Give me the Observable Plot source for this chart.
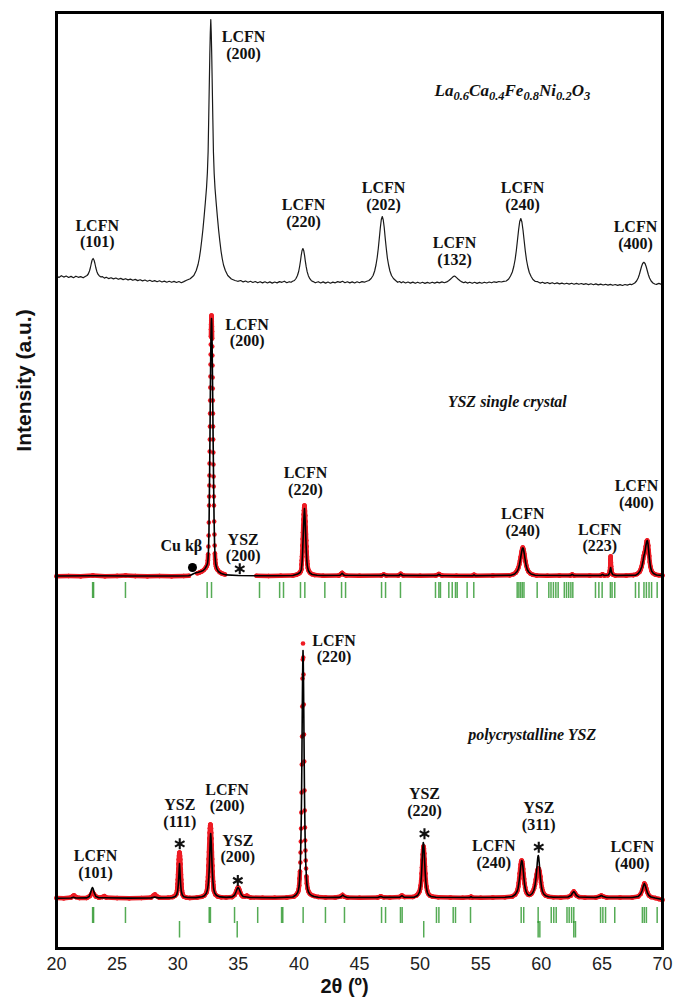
<!DOCTYPE html>
<html><head><meta charset="utf-8">
<script src="https://cdn.jsdelivr.net/npm/d3@7"></script>
<script src="https://cdn.jsdelivr.net/npm/@observablehq/plot@0.6"></script>
<style>html,body{margin:0;padding:0;background:#fff}#chart{width:673px;height:1000px}</style>
</head><body><div id="chart"></div>
<script>
// ---------- data ----------
const xTicks = [20,25,30,35,40,45,50,55,60,65,70];
const offsets = {top: 666, mid: 372, bot: 50};

// Bulk powder pattern (top)
const topPattern = [
[20.0,6.2],[20.2,5.1],[20.4,6.8],[20.6,5.4],[20.8,6.5],[21.0,5.0],[21.2,6.1],[21.4,4.8],[21.6,6.3],[21.8,5.2],[22.0,5.9],[22.2,4.7],
[22.37,6],[22.52,7],[22.62,8.5],[22.72,11.5],[22.8,15],[22.87,19],[22.94,22.5],[23.02,24],[23.1,22.3],[23.17,19],[23.24,15],[23.32,11.3],[23.42,8.3],[23.52,6.8],[23.67,5.6],
[23.8,5.9],[23.95,4.4],[24.1,5.3],[24.3,3.9],[24.5,4.8],[24.7,3.6],[24.9,4.5],[25.1,3.2],[25.3,4.1],[25.5,2.9],[25.7,3.8],[25.9,2.6],[26.1,3.4],[26.3,2.2],[26.5,3.1],[26.7,1.9],[26.9,2.8],[27.1,1.6],[27.3,2.5],[27.5,1.3],[27.7,2.2],[27.9,1.0],[28.1,1.9],[28.3,0.8],[28.5,1.7],[28.7,0.5],[28.9,1.4],[29.1,0.3],[29.3,1.2],[29.5,0.2],[29.7,1.1],[29.9,0.0],[30.1,1.0],[30.3,-0.2],[30.5,0.9],
[30.73,2.3],[31.03,3.8],[31.33,7],[31.53,12],[31.68,18],[31.78,24],[31.88,32],[31.98,42],[32.08,53],[32.18,66],[32.28,80],[32.38,95],[32.45,110],[32.51,131],[32.56,165],[32.61,200],[32.65,228],[32.69,250],[32.73,263],[32.77,249],[32.81,226],[32.85,198],[32.9,163],[32.95,130],[33.01,109],[33.08,94],[33.18,79],[33.28,65],[33.38,52],[33.48,41],[33.58,31],[33.68,23.5],[33.78,17.5],[33.93,12],[34.13,7],[34.43,3.5],[34.73,2],
[34.95,1.2],[35.2,2.0],[35.4,0.6],[35.6,1.5],[35.8,0.3],[36.0,1.2],[36.2,0.0],[36.4,1.0],[36.6,-0.3],[36.8,0.8],[37.0,-0.4],[37.2,0.7],[37.4,-0.5],[37.6,0.6],[37.8,-0.6],[38.0,0.5],[38.2,-0.4],[38.4,0.9],[38.6,0.2],[38.8,1.3],[39.0,-0.2],[39.2,0.8],[39.35,0.2],
[39.48,1.2],[39.63,2],[39.76,4],[39.88,7],[39.98,11],[40.06,16],[40.13,21.5],[40.19,27],[40.26,32],[40.33,34],[40.4,31.8],[40.47,26.8],[40.53,21.3],[40.6,15.8],[40.68,10.8],[40.78,6.8],[40.9,3.8],[41.03,1.8],[41.18,0.9],
[41.35,-0.3],[41.6,0.8],[41.8,-0.5],[42.0,0.6],[42.2,-0.6],[42.4,0.5],[42.6,-0.7],[42.8,0.4],[43.0,-0.3],[43.2,0.9],[43.4,0.1],[43.6,1.2],[43.8,-0.2],[44.0,0.7],[44.2,-0.4],[44.4,0.6],[44.6,-0.5],[44.8,0.7],[45.0,-0.2],[45.2,0.9],[45.4,0.3],[45.6,1.3],
[45.78,2],[45.96,4],[46.12,7],[46.25,11.5],[46.36,17.5],[46.46,25],[46.55,34],[46.64,45],[46.72,55],[46.8,63],[46.88,66],[46.96,62.5],[47.04,55],[47.12,44.5],[47.21,34],[47.3,24.5],[47.4,17.5],[47.51,11.5],[47.64,7],[47.8,4],[47.98,2],
[48.15,0.2],[48.3,1.0],[48.45,-0.3],[48.6,0.8],[48.8,-0.5],[49.0,0.5],[49.2,-0.6],[49.4,0.4],[49.6,-0.8],[49.8,0.3],[50.0,-0.7],[50.2,0.2],[50.4,-0.9],[50.6,0.1],[50.8,-0.8],[51.0,0.3],[51.2,-0.6],[51.4,0.4],[51.6,-0.4],[51.8,0.6],[52.0,-0.2],
[52.2,0.6],[52.35,1.8],[52.5,3.2],[52.62,4.6],[52.72,5.8],[52.82,6.5],[52.92,5.9],[53.03,4.6],[53.15,3.2],[53.3,1.8],[53.45,0.6],
[53.6,-0.2],[53.75,0.6],[53.9,-0.6],[54.1,0.3],[54.3,-0.8],[54.5,0.2],[54.7,-0.9],[54.9,0.1],[55.1,-0.7],[55.3,0.3],[55.5,-0.5],[55.7,0.5],[55.9,-0.3],[56.1,0.7],[56.3,0.1],[56.5,1.0],[56.7,0.5],[56.9,1.2],
[57.11,1.5],[57.31,3.5],[57.46,6.5],[57.61,10.5],[57.73,16],[57.84,23],[57.94,32],[58.04,43],[58.13,53],[58.22,61],[58.31,64],[58.4,60.5],[58.49,52.5],[58.58,42.5],[58.68,31.5],[58.78,22.5],[58.89,15.5],[59.01,10],[59.16,6],[59.31,3],[59.51,1],
[59.7,0.8],[59.9,-0.6],[60.1,0.3],[60.3,-0.9],[60.5,0.0],[60.7,-1.1],[60.9,-0.2],[61.1,-1.3],[61.3,-0.4],[61.5,-1.4],[61.7,-0.6],[61.9,-1.5],[62.1,-0.7],[62.3,-1.6],[62.5,-0.8],[62.7,-1.7],[62.9,-0.9],[63.1,-1.8],[63.3,-1.0],[63.5,-1.9],[63.7,-1.2],[63.9,-2.1],[64.1,-1.3],[64.3,-2.2],[64.5,-1.4],[64.7,-2.4],[64.9,-1.6],[65.1,-2.5],[65.3,-1.8],[65.5,-2.6],[65.7,-1.9],[65.9,-2.8],[66.1,-2.0],[66.3,-2.9],[66.5,-2.1],[66.7,-3.0],[66.9,-2.0],[67.1,-2.6],[67.3,-1.7],[67.45,-2.2],
[67.56,-1.5],[67.71,-0.5],[67.86,1.5],[67.99,4.5],[68.09,8],[68.18,12],[68.27,16],[68.36,19],[68.46,20.2],[68.56,19],[68.65,16],[68.74,12],[68.83,8],[68.93,4.5],[69.06,1.5],[69.21,-0.5],[69.36,-1.5],
[69.5,-1.9],[69.7,-0.9],[69.85,-1.6],[70.0,-1.0]
];

// YSZ single crystal: observed (red, three measured segments) and calculated (black)
const midObs = [
[[20,0.3],[21,0.5],[22,0.2],[23,0.9],[24,0.3],[25,0.6],[25.7,1],[26.5,0.4],[27.5,0.3],[28.5,0.5],[29.5,0.3],[30.5,0.5],[30.93,0.8]],
[[31.62,3.2],[31.8,4],[32.0,5.2],[32.15,6.5],[32.3,8.5],[32.4,10.5],[32.46,12.5],[32.49,16],[32.51,22],[32.53,30],[32.55,41],[32.57,54],[32.59,71],[32.6,80],[32.61,91],[32.62,101],[32.63,113],[32.64,125],[32.65,137],[32.66,150],[32.67,163],[32.68,176],[32.69,189],[32.7,200],[32.71,212],[32.72,222],[32.73,232],[32.74,240],[32.75,247],[32.76,252],[32.77,256],[32.78,259],[32.79,261],[32.8,259],[32.81,255],[32.82,250],[32.83,245],[32.84,238],[32.85,230],[32.86,221],[32.87,211],[32.88,199],[32.89,188],[32.9,176],[32.91,163],[32.92,150],[32.93,137],[32.94,124],[32.95,112],[32.96,100],[32.97,90],[32.98,80],[32.99,71],[33.01,55],[33.03,42],[33.05,31],[33.07,23],[33.09,17],[33.12,13],[33.16,10],[33.22,8],[33.3,6.5],[33.45,4.5],[33.65,3],[33.9,2]],
[[36.5,0.8],[37.5,0.5],[38.5,0.7],[39.5,1],[39.8,1.8],[40.0,3],[40.1,4],[40.16,5.5],[40.2,7],[40.22,12],[40.24,16],[40.26,20],[40.28,25],[40.3,31],[40.32,37.5],[40.34,44],[40.36,51],[40.38,57],[40.4,62],[40.42,66],[40.44,69],[40.46,71],[40.48,69.5],[40.5,65.5],[40.52,61],[40.54,55],[40.56,49],[40.58,42.5],[40.6,36],[40.62,30],[40.64,24.5],[40.66,19.5],[40.68,15.5],[40.7,12.5],[40.74,8.5],[40.8,6],[40.9,4],[41.05,2.5],[41.3,1.5],
 [42,0.8],[43.3,1],[43.45,2.2],[43.57,3.5],[43.7,2],[43.9,1],[45,0.8],[46.8,1],[47.0,2],[47.2,1],[48.2,1],[48.4,2.6],[48.6,1.1],[50,0.7],[51.3,1],[51.55,2.4],[51.8,1],[53,0.8],[54.3,0.8],[54.45,1.6],[54.6,0.8],[56,0.9],[57.4,1.2],[57.7,2.3],[57.9,4],
 [58.0,6],[58.1,8.5],[58.18,12],[58.24,15.5],[58.3,19.5],[58.34,22.5],[58.38,25],[58.42,27.5],[58.47,29],[58.52,27.5],[58.56,25],[58.6,22.5],[58.64,19.5],[58.7,15],[58.76,11],[58.84,7.5],[58.95,4.8],[59.1,3],[59.3,1.8],[59.6,1.1],
 [60.5,0.8],[61.5,0.9],[62.4,1],[62.55,2],[62.7,1],[64,0.9],[64.9,1],[65.05,2.2],[65.2,1],[65.5,1.3],[65.6,3],
 [65.66,6],[65.68,9],[65.7,13],[65.71,16.5],[65.72,20],[65.73,17.5],[65.74,14],[65.76,10],[65.78,7],[65.82,4],[65.9,2],[66.1,1],
 [67,1],[67.6,1.4],[67.9,2.5],[68.1,4.5],[68.2,7],[68.28,10],[68.34,13.5],[68.4,17.5],[68.46,21],[68.5,23],[68.54,24.5],[68.58,27],[68.62,30],[68.66,33],[68.7,35.5],[68.74,36],[68.78,34.5],[68.82,31],[68.86,26],[68.9,20.5],[68.95,14.5],[69.0,10],[69.08,6],[69.2,3.5],[69.4,2],[69.7,1.2],[70,1]]
];
const midCalc = [
[20,0.5],[23,0.7],[26,0.5],[30,0.5],[30.9,0.7],[31.1,1.5],[31.3,2.8],[31.5,3.8],[31.7,4.3],[31.9,5],[32.1,6],[32.25,7.8],[32.38,10.5],[32.46,13],[32.5,17],[32.54,26],[32.58,45],[32.62,88],[32.66,135],[32.7,192],[32.74,236],[32.77,253],[32.79,258],[32.81,253],[32.84,232],[32.88,188],[32.92,140],[32.96,96],[33.0,58],[33.04,34],[33.08,20],[33.14,12],[33.22,8],[33.35,5],[33.6,3],[34.0,1.6],[35,1],[36.5,0.8],[38,0.8],[39.5,1],[39.9,2.5],[40.1,4],[40.2,6.5],[40.26,14],[40.3,23],[40.34,36],[40.38,49],[40.42,60],[40.46,68],[40.5,60],[40.54,48],[40.58,35],[40.62,24],[40.66,15],[40.7,10],[40.78,6],[40.9,3.5],[41.1,2],[41.5,1.2],[42,1],[43.4,1.2],[43.57,3.2],[43.75,1.2],[46.85,1],[47.0,2],[47.15,1],[48.25,1],[48.4,2.4],[48.55,1],[51.4,1],[51.55,2.2],[51.7,1],[54.35,0.8],[54.45,1.5],[54.55,0.8],[57.5,1.2],[57.8,2.5],[58.0,5],[58.12,8],[58.2,12],[58.28,17.5],[58.34,22],[58.4,26],[58.45,28.5],[58.5,28.5],[58.55,26],[58.6,22.5],[58.66,17.5],[58.74,11.5],[58.84,7],[58.96,4.5],[59.15,2.5],[59.5,1.3],[62.4,1],[62.55,2],[62.7,1],[64.9,1],[65.05,2],[65.2,1],[65.55,1.5],[65.64,4],[65.72,9],[65.8,4],[65.9,1.8],[66.2,1],[67.8,1.4],[68.0,3],[68.15,5.5],[68.3,10],[68.4,16],[68.47,21],[68.52,23],[68.57,26],[68.63,31],[68.7,35],[68.75,36],[68.8,33],[68.86,26],[68.92,18],[69.0,10],[69.1,5.5],[69.25,3],[69.5,1.5],[70,1]
];

// polycrystalline YSZ: observed (red) and calculated (black)
const botObs = [
[20,0.5],[20.6,0.2],[21.2,1],[21.35,2.5],[21.45,3],[21.6,1.5],[21.9,0.5],[22.5,0.6],[22.75,2.5],[22.9,5],[22.98,6],[23.08,4.5],[23.25,2],[23.5,0.8],[23.8,1.5],[23.95,2.3],[24.1,1],[25,0.4],[26,0.3],[27,0.5],[27.8,1],[28.0,3],[28.12,4],[28.25,2.5],[28.5,0.8],[29.2,0.8],[29.6,1.5],[29.8,3],[29.9,4.6],
[29.93,5.9],[29.95,7.9],[29.97,10.7],[29.99,14.4],[30.01,18.8],[30.03,23.8],[30.05,29.2],[30.07,34.4],[30.09,39],[30.11,42.6],[30.13,45.1],[30.15,46],[30.17,45],[30.19,42.6],[30.21,39],[30.23,34.4],[30.25,29.2],[30.27,23.8],[30.29,18.8],[30.31,14.4],[30.33,10.7],[30.35,7.9],[30.37,5.9],[30.4,4],[30.5,2],[30.7,1],
[31,0.6],[31.6,1],[32.0,1.8],[32.2,3],[32.35,5.5],[32.4,7],[32.42,8.6],[32.44,10.7],[32.46,13.5],[32.48,17.1],[32.5,21.5],[32.52,26.8],[32.54,32.8],[32.56,39.5],[32.58,46.5],[32.6,53.5],[32.62,60],[32.64,65.7],[32.66,70.2],[32.68,73],[32.7,74],[32.72,73],[32.74,70.2],[32.76,65.7],[32.78,60],[32.8,53.5],[32.82,46.5],[32.84,39.5],[32.86,32.8],[32.88,26.8],[32.9,21.5],[32.92,17.1],[32.94,13.5],[32.96,10.7],[32.98,8.6],[33.0,7],[33.1,4],[33.3,2],[33.6,1.2],[34.0,1],
[34.5,1.5],[34.7,3.5],[34.8,6],[34.86,8],[34.92,10],[34.98,11],[35.04,10.2],[35.1,8.3],[35.16,6],[35.24,3.8],[35.35,2.3],[35.55,2],[35.7,2.8],[35.8,2],[36,1],[37,0.7],[38,0.8],[39,1],
[39.6,2],[39.75,3.5],[39.85,5],[39.94,7],[39.99,9.5],[40.02,13],[40.06,20],[40.09,27],[40.12,36],[40.14,46],[40.16,57],[40.18,70],[40.2,86],[40.22,106],[40.24,134],[40.26,162],[40.28,192],[40.3,220],[40.32,239],[40.34,255],[40.36,241],[40.38,224],[40.4,194],[40.42,164],[40.44,137],[40.46,108],[40.48,88],[40.5,71],[40.52,58],[40.54,48],[40.56,38],[40.59,30],[40.62,22],[40.66,15],[40.72,10],[40.79,7],[40.89,5],[41.04,3.5],[41.25,2.5],[41.6,1.5],
[42.2,1],[43,1],[43.45,2],[43.6,3.5],[43.72,2],[44,1],[45,0.8],[46.5,1],[46.75,2.2],[47.0,1.2],[47.5,1],[48.3,1.5],[48.5,3],[48.7,1.5],[49.4,1.5],[49.7,3],[49.85,5],
[49.95,7],[50.0,9.5],[50.05,13],[50.09,18],[50.13,25],[50.16,31],[50.19,38],[50.22,44],[50.25,49],[50.28,52],[50.31,50],[50.34,45],[50.37,39],[50.4,32],[50.43,25],[50.47,18],[50.52,12],[50.58,8],[50.66,5],[50.8,3],[51.0,2],
[51.5,1.2],[52.5,1],[53.5,0.8],[54.1,1.2],[54.2,1.8],[54.3,1],[55,0.8],[56,1],[57,1.2],[57.6,2],[57.85,4],
[58.0,7],[58.06,9.5],[58.1,12],[58.14,15.5],[58.18,20],[58.22,25],[58.26,30],[58.3,34],[58.34,37],[58.38,38],[58.42,37],[58.46,34],[58.5,29.5],[58.54,24.5],[58.58,19.5],[58.62,15],[58.67,11],[58.73,7.5],[58.8,5.5],[58.9,4],[59.0,3.5],
[59.1,4],[59.2,5],[59.3,7],[59.4,10],[59.48,14],[59.55,19],[59.62,24],[59.68,28],[59.74,30],[59.8,29.5],[59.86,27],[59.92,22],[59.98,16],[60.05,11],[60.12,7.5],[60.2,5],[60.35,3],[60.6,1.8],
[61.0,1.2],[61.6,1],[62.2,1.5],[62.45,3],[62.58,5.5],[62.68,7],[62.78,5.5],[62.9,3],[63.1,1.5],[63.6,1],[64.5,1],[64.8,2],[64.95,3],[65.1,2],[65.4,1],[66.5,1],[67.5,1],
[68.0,2],[68.2,4.5],[68.32,8],[68.42,12],[68.5,15],[68.58,13.5],[68.66,10],[68.76,6],[68.88,3],[69.05,1.5],[69.4,0.5],[69.7,-0.5],[70,-1.5]
];
const botCalc = [
[20,0.3],[21.2,0.5],[21.4,1.2],[21.6,0.5],[22.5,0.6],[22.7,2],[22.82,6],[22.9,9.5],[22.96,11],[23.03,9.5],[23.12,5.5],[23.25,2],[23.5,0.7],[24,0.8],[26,0.4],[27.8,0.6],[28.1,1.5],[28.4,0.6],[29.5,0.8],[29.8,2],[29.92,4],[30.0,8],[30.05,14],[30.09,22],[30.12,29],[30.15,35],[30.18,29],[30.21,21],[30.25,13],[30.3,7],[30.38,3.5],[30.5,1.8],[30.8,1],[31.5,0.9],[32.0,1.7],[32.2,2.8],[32.35,5],[32.45,8.5],[32.52,14],[32.57,22],[32.61,32],[32.64,42],[32.67,53],[32.7,62],[32.72,65],[32.75,61],[32.78,52],[32.81,41],[32.85,29],[32.9,18],[32.96,10],[33.05,5.5],[33.2,3],[33.5,1.6],[34,1.1],[34.5,1.6],[34.7,3.5],[34.82,7],[34.9,9.5],[34.98,11],[35.06,9.8],[35.15,7],[35.25,4],[35.4,2],[35.7,1.5],[36,1],[38,0.8],[39.5,1.5],[39.75,3.5],[39.9,6],
[39.96,8.5],[40.02,12.5],[40.06,19],[40.09,26],[40.12,35],[40.14,45],[40.16,56],[40.18,68],[40.2,84],[40.22,104],[40.24,130],[40.26,160],[40.28,190],[40.3,217],[40.32,236],[40.34,248],[40.36,237],[40.38,219],[40.4,191],[40.42,162],[40.44,134],[40.46,107],[40.48,87],[40.5,70],[40.52,57],[40.54,47],[40.56,37],[40.59,29],[40.62,21],[40.66,14],[40.72,9.5],[40.79,6.5],[40.89,4.5],[41.04,3],[41.25,2],[41.6,1.3],
[42.2,1],[43.3,1.1],[43.5,2],[43.62,3.5],[43.75,2],[44,1],[46.5,1],[46.75,2],[47,1.1],[48.3,1.2],[48.5,2.8],[48.7,1.2],[49.5,1.3],[49.8,3],[49.95,6.5],[50.05,13],[50.12,25],[50.18,40],[50.22,50],[50.26,56],[50.3,54],[50.34,46],[50.38,36],[50.42,26],[50.47,17],[50.53,10],[50.6,6],[50.7,3.5],[50.9,2],[51.3,1.2],[54.1,1],[54.2,1.8],[54.3,1],[57,1.2],[57.6,2],[57.85,4],
[58.0,7],[58.08,10],[58.14,14.5],[58.2,20],[58.26,27],[58.31,33],[58.35,36.5],[58.39,38],[58.43,36.5],[58.47,33],[58.52,27],[58.57,20],[58.62,14.5],[58.68,10],[58.76,6.5],[58.86,4.2],[58.98,3.2],[59.1,3.5],[59.25,5],[59.38,8],[59.48,13],[59.56,20],[59.62,28],[59.67,36],[59.71,41],[59.75,43],[59.79,41],[59.84,34],[59.89,26],[59.95,18],[60.02,11],[60.1,7],[60.2,4.5],[60.35,2.8],[60.6,1.7],[61,1.2],
[62.2,1.5],[62.45,3],[62.58,5.5],[62.68,7],[62.78,5.5],[62.9,3],[63.1,1.5],[64.5,1],[64.8,2],[64.95,3],[65.1,2],[65.4,1],[67.5,1],[68,2],[68.2,4.5],[68.32,8],[68.42,12.5],[68.5,15],[68.58,13],[68.66,9.5],[68.76,5.5],[68.88,3],[69.05,1.5],[69.4,0.5],[70,-1]
];

// Bragg reflection markers (2θ)
const midTicks = [22.98,23.06,25.69,32.43,32.79,36.75,38.41,38.73,40.13,40.49,42.14,43.52,43.85,46.82,47.15,48.38,51.27,51.55,51.68,52.37,52.65,52.92,53.06,53.88,54.43,58.01,58.15,58.29,58.43,58.57,59.66,60.62,60.8,61.0,61.2,61.39,61.9,62.08,62.26,62.44,62.6,64.47,64.75,65.02,65.7,65.84,66.06,67.77,68.05,68.47,68.67,68.89,69.1,69.56];
const botTicks1 = [22.98,23.06,25.69,32.6,32.7,34.69,36.6,38.57,38.67,40.35,42.19,43.76,46.82,47.15,48.38,48.52,51.35,51.55,52.73,52.92,54.16,58.34,58.55,59.74,60.82,61.03,61.23,62.12,62.3,62.5,62.68,64.89,65.08,65.3,66.06,68.34,68.5,68.67,69.56];
const botTicks2 = [30.15,34.91,50.3,59.74,59.88,62.68,62.82];

// annotations [2θ, intensity, text]
const peakLabels = [
[23.36,701.3,"LCFN\n(101)"],[35.43,889.7,"LCFN\n(200)"],[40.38,722,"LCFN\n(220)"],[46.98,739,"LCFN\n(202)"],[52.84,684,"LCFN\n(132)"],[58.45,739,"LCFN\n(240)"],[67.77,699.7,"LCFN\n(400)"],
[35.73,602.3,"LCFN\n(200)"],[40.54,454,"LCFN\n(220)"],[30.3,398,"Cu kβ"],[35.4,387.3,"YSZ\n(200)"],[58.47,413,"LCFN\n(240)"],[64.83,397.3,"LCFN\n(223)"],[67.85,440.7,"LCFN\n(400)"],
[42.9,286.3,"LCFN\n(220)"],[23.22,70.7,"LCFN\n(101)"],[30.17,122,"YSZ\n(111)"],[34.08,137.3,"LCFN\n(200)"],[34.96,86.3,"YSZ\n(200)"],[50.36,133,"YSZ\n(220)"],[56.08,80.7,"LCFN\n(240)"],[59.79,118.7,"YSZ\n(311)"],[67.5,79.7,"LCFN\n(400)"]
];
const sampleNames = [[57.19,542,"YSZ single crystal"],[59.25,208.7,"polycrystalline YSZ"]];
const formulaParts = [["La","0.6"],["Ca","0.4"],["Fe","0.8"],["Ni","0.2"],["O","3"]];
const formulaAt = [[51.19,853]];
const asterisks = [[35.12,379.7],[30.17,104.7],[34.96,68],[50.36,114.7],[59.79,101.3]];
const cuKbDot = [[31.22,381]];

// ---------- build ----------
const RED = "#ee1c24", GREEN = "#2a962a";
const serif = "Liberation Serif, Times New Roman, serif";
const sans = "Liberation Sans, Arial, Helvetica, sans-serif";

const midObsFlat = midObs.flatMap((seg, s) => seg.map(([x, v]) => ({x, y: v + offsets.mid, s})));
const botObsFlat = botObs.map(([x, v]) => ({x, y: v + offsets.bot, s: 0}));
function bandLinks(flat) {
  const out = [];
  for (let i = 1; i < flat.length; i++) {
    const a = flat[i - 1], b = flat[i];
    if (a.s === b.s && Math.abs(b.y - a.y) < 8) out.push({a, b});
  }
  return out;
}
const formulaStr = formulaParts.map(p => p.join("")).join("");

const svg = Plot.plot({
  width: 673, height: 1000,
  marginLeft: 56, marginRight: 11, marginTop: 12, marginBottom: 52,
  style: {fontFamily: sans, background: "#fff"},
  x: {domain: [20, 70]},
  y: {domain: [0, 936], axis: null},
  marks: [
    Plot.line(topPattern, {x: d => d[0], y: d => d[1] + offsets.top, stroke: "#1a1a1a", strokeWidth: 1.2}),
    Plot.link(bandLinks(midObsFlat), {x1: d => d.a.x, y1: d => d.a.y, x2: d => d.b.x, y2: d => d.b.y, stroke: RED, strokeWidth: 4.5, strokeLinecap: "round"}),
    Plot.dot(midObsFlat, {x: "x", y: "y", r: 2.3, fill: RED}),
    Plot.line(midCalc, {x: d => d[0], y: d => d[1] + offsets.mid, stroke: "#000", strokeWidth: 1.6}),
    Plot.link(bandLinks(botObsFlat), {x1: d => d.a.x, y1: d => d.a.y, x2: d => d.b.x, y2: d => d.b.y, stroke: RED, strokeWidth: 4.5, strokeLinecap: "round"}),
    Plot.dot(botObsFlat, {x: "x", y: "y", r: 2.3, fill: RED}),
    Plot.line(botCalc, {x: d => d[0], y: d => d[1] + offsets.bot, stroke: "#000", strokeWidth: 1.6}),
    Plot.ruleX(midTicks, {x: d => d, y1: 350, y2: 366, stroke: GREEN, strokeWidth: 1.5, strokeOpacity: 0.8}),
    Plot.ruleX(botTicks1, {x: d => d, y1: 25, y2: 41, stroke: GREEN, strokeWidth: 1.5, strokeOpacity: 0.8}),
    Plot.ruleX(botTicks2, {x: d => d, y1: 10.5, y2: 27, stroke: GREEN, strokeWidth: 1.5, strokeOpacity: 0.8}),
    Plot.text(peakLabels, {x: d => d[0], y: d => d[1], text: d => d[2], lineAnchor: "bottom", textAnchor: "middle", lineHeight: 1.04, fontFamily: serif, fontWeight: "bold", fontSize: 16, fill: "#111"}),
    Plot.text(sampleNames, {x: d => d[0], y: d => d[1], text: d => d[2], lineAnchor: "bottom", textAnchor: "middle", fontFamily: serif, fontWeight: "bold", fontStyle: "italic", fontSize: 16, fill: "#111"}),
    Plot.text(formulaAt, {x: d => d[0], y: d => d[1], text: () => formulaStr, lineAnchor: "bottom", textAnchor: "start", fontFamily: serif, fontWeight: "bold", fontStyle: "italic", fontSize: 17, fill: "#111"}),
    Plot.dot(asterisks, {x: d => d[0], y: d => d[1], symbol: "asterisk", r: 5.2, stroke: "#111", strokeWidth: 2.1}),
    Plot.dot(cuKbDot, {x: d => d[0], y: d => d[1], r: 4.5, fill: "#000"}),
    Plot.frame({stroke: "#000", strokeWidth: 3}),
    Plot.axisX(xTicks, {tickSize: 0, tickPadding: 9, fontSize: 18, label: null, tickFormat: d => String(d), fill: "#222"}),
    Plot.text(["2θ (º)"], {frameAnchor: "bottom", dx: -15, dy: 44, text: d => d, textAnchor: "middle", lineAnchor: "bottom", fontSize: 20, fontWeight: "bold", fontFamily: sans, fill: "#111"}),
    Plot.text(["Intensity (a.u.)"], {frameAnchor: "left", dx: -32, dy: -100, rotate: -90, text: d => d, textAnchor: "middle", lineAnchor: "middle", fontSize: 21, fontWeight: "bold", fontFamily: sans, fill: "#111"})
  ]
});

d3.select(svg).selectAll("text").filter(function () { return this.textContent === formulaStr; }).each(function () {
  const t = d3.select(this);
  t.text(null);
  formulaParts.forEach(([el, sub], i) => {
    t.append("tspan").attr("dy", i ? -4 : null).text(el);
    t.append("tspan").attr("dy", 4).attr("font-size", 12.5).text(sub);
  });
});

document.getElementById("chart").appendChild(svg);
</script>
</body></html>
